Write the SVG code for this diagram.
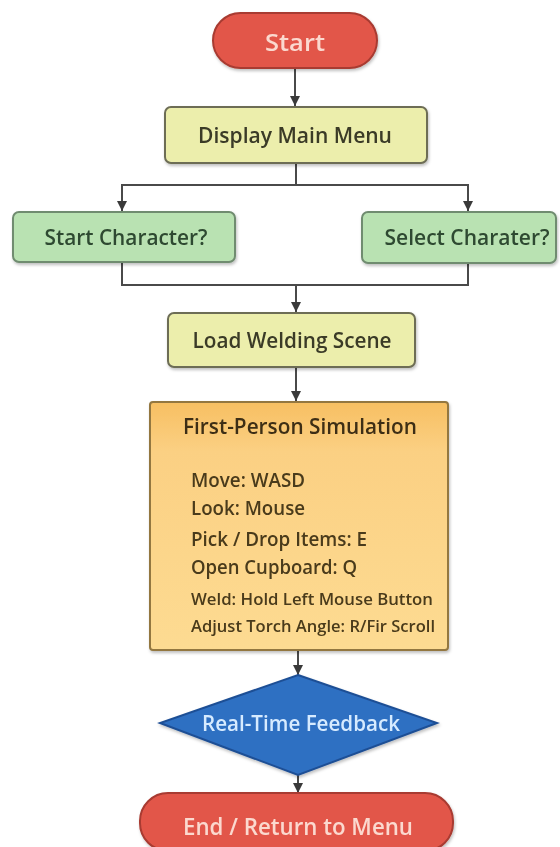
<svg xmlns="http://www.w3.org/2000/svg" width="560" height="847" viewBox="0 0 560 847">
<style>
text{font-family:"Open Sans","Noto Sans","Liberation Sans",sans-serif;font-weight:600}
.con{fill:none;stroke:#4a4a4a;stroke-width:2}
.pill{fill:#e2574a;stroke:#a83a30;stroke-width:2}
.ytxt{fill:#3a3a28;font-size:22px}
.ybox{fill:#eceeac;stroke:#6d6d55;stroke-width:2}
.gbox{fill:#b9e2b2;stroke:#6f8c6f;stroke-width:2}
.gtxt{fill:#2e4a30;font-size:22px}
.ptxt{fill:#fbd9cf;font-size:23px}
.ftxt{fill:#4a3a1a;font-size:19px}
.fsm{fill:#4a3a1a;font-size:17px}
</style>
<defs>
<marker id="ah" viewBox="0 0 10 10" refX="10" refY="5" markerWidth="5" markerHeight="5" orient="auto">
<path d="M0,0 L10,5 L0,10 z" fill="#3a3a3a"/>
</marker>
<linearGradient id="og" x1="0" y1="0" x2="0" y2="1">
<stop offset="0" stop-color="#f7bf62"/>
<stop offset="0.2" stop-color="#fbd083"/>
<stop offset="1" stop-color="#fddb92"/>
</linearGradient>
<filter id="sh" x="-10%" y="-10%" width="120%" height="130%">
<feDropShadow dx="1" dy="2" stdDeviation="1.5" flood-color="#000" flood-opacity="0.25"/>
</filter>
</defs>
<rect width="560" height="847" fill="#ffffff"/>
<g id="connectors">
<line class="con" x1="295" y1="68" x2="295" y2="106" marker-end="url(#ah)"/>
<polyline class="con" points="296,163 296,185"/>
<polyline class="con" points="122,190 122,185 468,185 468,190"/>
<line class="con" x1="122" y1="185" x2="122" y2="211" marker-end="url(#ah)"/>
<line class="con" x1="468" y1="185" x2="468" y2="211" marker-end="url(#ah)"/>
<polyline class="con" points="122,262 122,285 468,285 468,263"/>
<line class="con" x1="296" y1="285" x2="296" y2="312" marker-end="url(#ah)"/>
<line class="con" x1="296" y1="367" x2="296" y2="401" marker-end="url(#ah)"/>
<line class="con" x1="298" y1="650" x2="298" y2="675" marker-end="url(#ah)"/>
<line class="con" x1="298" y1="775" x2="298" y2="793" marker-end="url(#ah)"/>
</g>
<g id="start" filter="url(#sh)">
<rect class="pill" x="213" y="13" width="164" height="55" rx="27.5"/>
<text class="ptxt" x="295" y="51" text-anchor="middle" font-size="24" textLength="60" lengthAdjust="spacingAndGlyphs">Start</text>
</g>
<g id="menu" filter="url(#sh)">
<rect class="ybox" x="165" y="107" width="262" height="56" rx="6"/>
<text class="ytxt" x="295" y="143" text-anchor="middle" textLength="194" lengthAdjust="spacingAndGlyphs">Display Main Menu</text>
</g>
<g id="startchar" filter="url(#sh)">
<rect class="gbox" x="13" y="212" width="222" height="50" rx="6"/>
<text class="gtxt" x="126" y="245" text-anchor="middle" textLength="163" lengthAdjust="spacingAndGlyphs">Start Character?</text>
</g>
<g id="selectchar" filter="url(#sh)">
<rect class="gbox" x="362" y="212" width="194" height="51" rx="6"/>
<text class="gtxt" x="467" y="245" text-anchor="middle" textLength="165" lengthAdjust="spacingAndGlyphs">Select Charater?</text>
</g>
<g id="load" filter="url(#sh)">
<rect class="ybox" x="168" y="313" width="247" height="54" rx="6"/>
<text class="ytxt" x="292" y="348" text-anchor="middle" font-size="23" textLength="199" lengthAdjust="spacingAndGlyphs">Load Welding Scene</text>
</g>
<g id="simulation" filter="url(#sh)">
<rect x="150" y="402" width="298" height="248" rx="3" fill="url(#og)" stroke="#93773f" stroke-width="2"/>
<text x="183" y="434" fill="#3e2f14" font-size="21" textLength="234" lengthAdjust="spacingAndGlyphs">First-Person Simulation</text>
<text class="ftxt" x="191" y="487" textLength="114" lengthAdjust="spacingAndGlyphs">Move: WASD</text>
<text class="ftxt" x="191" y="515" textLength="114" lengthAdjust="spacingAndGlyphs">Look: Mouse</text>
<text class="ftxt" x="191" y="546" textLength="176" lengthAdjust="spacingAndGlyphs">Pick / Drop Items: E</text>
<text class="ftxt" x="191" y="574" textLength="166" lengthAdjust="spacingAndGlyphs">Open Cupboard: Q</text>
<text class="fsm" x="191" y="605" textLength="242" lengthAdjust="spacingAndGlyphs">Weld: Hold Left Mouse Button</text>
<text class="fsm" x="191" y="632" textLength="244" lengthAdjust="spacingAndGlyphs">Adjust Torch Angle: R/Fir Scroll</text>
</g>
<g id="feedback" filter="url(#sh)">
<polygon points="298,675 437,723 298,775 160,723" fill="#2f6fc2" stroke="#1f4f95" stroke-width="2"/>
<text x="301" y="731" text-anchor="middle" fill="#d6ebff" font-size="21" textLength="198" lengthAdjust="spacingAndGlyphs">Real-Time Feedback</text>
</g>
<g id="end" filter="url(#sh)">
<rect class="pill" x="140" y="793" width="313" height="58" rx="28"/>
<text class="ptxt" x="298" y="835" text-anchor="middle" textLength="230" lengthAdjust="spacingAndGlyphs">End / Return to Menu</text>
</g>
</svg>
